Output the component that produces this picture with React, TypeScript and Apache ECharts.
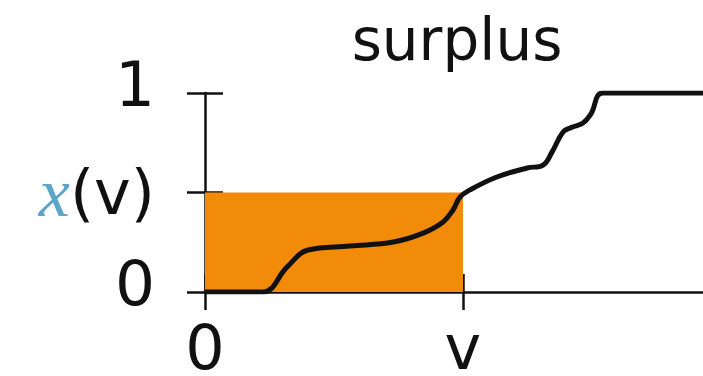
import React, { useEffect, useRef } from "react";
import * as echarts from "echarts";

const TITLE = "surplus";
const V_VALUE = 0.518;
const X_OF_V = 0.5;
const X_TICKS = [0, V_VALUE];
const X_TICK_LABELS = ["0", "v"];
const Y_TICKS = [0, X_OF_V, 1];
const Y_TICK_LABELS = ["{d|0}", "{x|x}(v)", "{d|1}"];
const CURVE_X = [0, 0.116, 0.165, 0.207, 0.291, 0.378, 0.438, 0.478, 0.498, 0.512, 0.532, 0.586, 0.647, 0.679, 0.697, 0.719, 0.735, 0.759, 0.775, 0.799, 1];
const CURVE_Y = [0, 0, 0.126, 0.211, 0.231, 0.251, 0.296, 0.352, 0.412, 0.477, 0.513, 0.578, 0.623, 0.638, 0.704, 0.804, 0.826, 0.849, 0.895, 1, 1];

const FONT = "DejaVu Sans";

export default function App() {
  const ref = useRef<HTMLDivElement>(null);
  useEffect(() => {
    if (!ref.current) return;
    const chart = echarts.init(ref.current, null, { renderer: "svg" });
    const curve = CURVE_X.map((x, i) => [x, CURVE_Y[i]]);
    const axisCommon = {
      type: "value" as const,
      min: 0,
      max: 1,
      splitLine: { show: false },
    };
    chart.setOption({
      animation: false,
      backgroundColor: "#ffffff",
      title: {
        text: TITLE,
        left: 452,
        top: 6,
        textAlign: "center",
        textStyle: { fontFamily: FONT, fontSize: 58, fontWeight: "normal", color: "#111" },
      },
      grid: { left: 205, right: 0, top: 93, bottom: 84, outerBoundsMode: "none" },
      xAxis: [
        {
          ...axisCommon,
          position: "bottom",
          axisLine: { show: true, lineStyle: { color: "#111", width: 2.5 } },
          axisTick: { show: true, length: 18, lineStyle: { color: "#111", width: 2.5 }, customValues: X_TICKS },
          axisLabel: {
            show: true,
            customValues: X_TICKS,
            formatter: (val: number) => X_TICK_LABELS[X_TICKS.indexOf(val)] ?? "",
            fontFamily: FONT,
            fontSize: 62,
            color: "#111",
            margin: 24,
          },
        },
        {
          ...axisCommon,
          position: "bottom",
          axisLine: { show: false },
          axisTick: { show: true, inside: true, length: 18, lineStyle: { color: "#111", width: 2.5 }, customValues: X_TICKS },
          axisLabel: { show: false },
        },
      ],
      yAxis: [
        {
          ...axisCommon,
          position: "left",
          axisLine: { show: true, lineStyle: { color: "#111", width: 2.5 } },
          axisTick: { show: true, length: 18, lineStyle: { color: "#111", width: 2.5 }, customValues: Y_TICKS },
          axisLabel: {
            show: true,
            customValues: Y_TICKS,
            formatter: (val: number) => Y_TICK_LABELS[Y_TICKS.indexOf(val)] ?? "",
            fontFamily: FONT,
            fontSize: 62,
            color: "#111",
            margin: 50,
            rich: {
              d: { fontFamily: FONT, fontSize: 63, color: "#111", padding: [0, 0, 18, 0] },
              x: { fontFamily: "Liberation Serif", fontStyle: "italic", fontSize: 70, color: "#5aa5c8" },
            },
          },
        },
        {
          ...axisCommon,
          position: "left",
          axisLine: { show: false },
          axisTick: { show: true, inside: true, length: 18, lineStyle: { color: "#111", width: 2.5 }, customValues: Y_TICKS },
          axisLabel: { show: false },
        },
      ],
      series: [
        {
          name: "surplus area",
          type: "line",
          xAxisIndex: 0,
          yAxisIndex: 0,
          data: [[0, X_OF_V], [V_VALUE, X_OF_V]],
          symbol: "none",
          lineStyle: { width: 0 },
          areaStyle: { color: "#f28a0a", opacity: 1 },
          z: 1,
        },
        {
          name: "x",
          type: "line",
          xAxisIndex: 0,
          yAxisIndex: 0,
          data: curve,
          symbol: "none",
          smooth: 0.4,
          lineStyle: { color: "#111", width: 5 },
          z: 3,
        },
      ],
    });
    return () => chart.dispose();
  }, []);
  return <div ref={ref} style={{ position: "fixed", left: 0, top: 0, width: 703, height: 376 }} />;
}
